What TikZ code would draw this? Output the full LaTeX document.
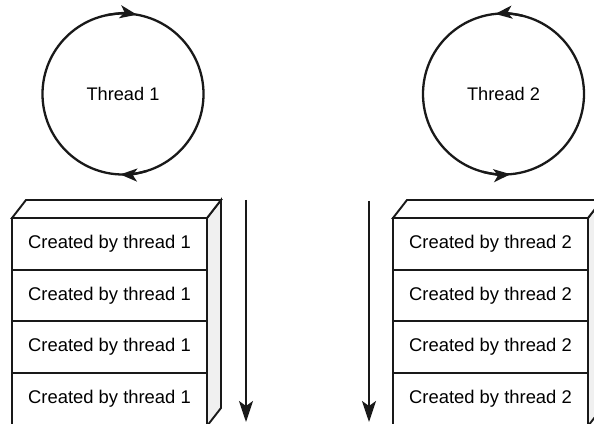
\documentclass[tikz,border=0pt]{standalone}
\usepackage{fontspec}
\setmainfont{Liberation Sans}
\usetikzlibrary{arrows.meta}
\begin{document}
\begin{tikzpicture}[x=1pt,y=1pt,
  ln/.style={line width=1.9pt, draw=black!90},
  thread/.style={circle, ln, line width=2.3pt, minimum size=161pt, inner sep=0pt, outer sep=0pt, font=\fontsize{18.2}{22}\selectfont},
  cell/.style={ln, fill=white, minimum width=195pt, minimum height=51.7pt, inner sep=0pt, outer sep=0pt, font=\fontsize{18.4}{22}\selectfont, text height=13pt, text depth=3.5pt},
  side/.style={ln, fill=black!6, line join=miter},
  topface/.style={ln, fill=white, line join=miter},
  cyc/.style={ln, line width=2.3pt, -{Stealth[length=17pt,width=13pt,inset=4.5pt]}},
  down/.style={ln, -{Stealth[length=21pt,width=14pt,inset=5pt]}}
]
\useasboundingbox (0,0) rectangle (594,423);
\clip (0,0) rectangle (594,423);

% threads
\node[thread] (t1) at (123,329) {Thread 1};
\draw[cyc] (t1.102) arc[start angle=102,end angle=80,radius=80.5pt];
\draw[cyc] (t1.287) arc[start angle=287,end angle=268,radius=80.5pt];

\node[thread] (t2) at (503.5,329) {Thread 2};
\draw[cyc] (t2.76) arc[start angle=76,end angle=96,radius=80.5pt];
\draw[cyc] (t2.255) arc[start angle=255,end angle=275,radius=80.5pt];

% left stack
\draw[side] (207,205) -- (221,223) -- (221,15) -- (207,-3) -- cycle;
\draw[topface] (12,205) -- (26,223) -- (221,223) -- (207,205) -- cycle;
\node[cell, anchor=north west] (a1) at (12,205) {Created by thread 1};
\node[cell, anchor=north] (a2) at (a1.south) {Created by thread 1};
\node[cell, anchor=north] (a3) at (a2.south) {Created by thread 1};
\node[cell, anchor=north] (a4) at (a3.south) {Created by thread 1};
\coordinate (as) at (246,223);
\coordinate (ae) at (246,1);
\draw[down] (as) -- (ae);

% right stack
\draw[side] (588,205) -- (602,223) -- (602,15) -- (588,-3) -- cycle;
\draw[topface] (393,205) -- (407,223) -- (602,223) -- (588,205) -- cycle;
\node[cell, anchor=north west] (b1) at (393,205) {Created by thread 2};
\node[cell, anchor=north] (b2) at (b1.south) {Created by thread 2};
\node[cell, anchor=north] (b3) at (b2.south) {Created by thread 2};
\node[cell, anchor=north] (b4) at (b3.south) {Created by thread 2};
\coordinate (bs) at (369,222);
\coordinate (be) at (369,1);
\draw[down] (bs) -- (be);
\end{tikzpicture}
\end{document}
